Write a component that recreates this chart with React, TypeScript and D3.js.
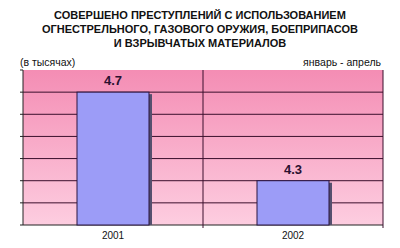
import React from "react";
import * as d3 from "d3";

const titleLines = [
  "СОВЕРШЕНО ПРЕСТУПЛЕНИЙ С ИСПОЛЬЗОВАНИЕМ",
  "ОГНЕСТРЕЛЬНОГО, ГАЗОВОГО ОРУЖИЯ, БОЕПРИПАСОВ",
  "И ВЗРЫВЧАТЫХ МАТЕРИАЛОВ",
];
const categories = ["2001", "2002"];
const values = [4.7, 4.3];
const valueLabels = ["4.7", "4.3"];
const yTicks = [4.1, 4.2, 4.3, 4.4, 4.5, 4.6, 4.7, 4.8];
const unitLabel = "(в тысячах)";
const periodLabel = "январь - апрель";

export default function App() {
  const W = 400, H = 248;
  const left = 23, right = 383, top = 70, bottom = 225;
  const x = d3.scaleBand<string>().domain(categories).range([left, right]).padding(0);
  const y = d3.scaleLinear().domain([4.1, 4.8]).range([bottom, top]);
  const barW = x.bandwidth() * 0.4;
  const font = "Arial, 'Liberation Sans', sans-serif";
  return (
    <svg width={W} height={H} style={{ position: "absolute", left: 0, top: 0, background: "#fff" }}>
      <defs>
        <linearGradient id="bg" x1="0" y1="0" x2="0" y2="1">
          <stop offset="0" stopColor="#f48db4" />
          <stop offset="1" stopColor="#fdcde0" />
        </linearGradient>
      </defs>
      {titleLines.map((t, i) => (
        <text key={i} x={200} y={19 + i * 14} textAnchor="middle" fontFamily={font} fontWeight="bold" fontSize={11} fill="#111">
          {t}
        </text>
      ))}
      <text x={20} y={66} fontFamily={font} fontSize={10.5} fill="#111">{unitLabel}</text>
      <text x={381} y={66} textAnchor="end" fontFamily={font} fontSize={10.5} fill="#111">{periodLabel}</text>
      <rect x={left} y={top} width={right - left} height={bottom - top} fill="url(#bg)" />
      {yTicks.slice(1, -1).map((t) => (
        <line key={t} x1={left} x2={right} y1={y(t)} y2={y(t)} stroke="#3a0f2c" strokeWidth={1} />
      ))}
      {yTicks.map((t) => (
        <line key={"tk" + t} x1={left - 3} x2={left} y1={y(t)} y2={y(t)} stroke="#222" strokeWidth={1} />
      ))}
      <line x1={left} x2={left} y1={top} y2={bottom} stroke="#222" />
      <line x1={left} x2={right} y1={bottom} y2={bottom} stroke="#222" />
      <line x1={right} x2={right} y1={top} y2={bottom + 3} stroke="#3a0f2c" />
      <line x1={left + x.bandwidth()} x2={left + x.bandwidth()} y1={top} y2={bottom + 3} stroke="#3a0f2c" />
      {categories.map((c, i) => {
        const cx = (x(c) as number) + x.bandwidth() / 2;
        const bx = cx - barW / 2;
        const by = y(values[i]);
        return (
          <g key={c}>
            <rect x={bx + barW} y={by + 2} width={3} height={bottom - by - 2} fill="#55506e" />
            <rect x={bx} y={by} width={barW} height={bottom - by} fill="#9c9cf7" stroke="#2a1440" strokeWidth={1} />
            <text x={cx} y={by - 7} textAnchor="middle" fontFamily={font} fontWeight="bold" fontSize={13} fill="#2a1030">
              {valueLabels[i]}
            </text>
            <text x={cx} y={239} textAnchor="middle" fontFamily={font} fontSize={10} fill="#111">{c}</text>
          </g>
        );
      })}
    </svg>
  );
}
